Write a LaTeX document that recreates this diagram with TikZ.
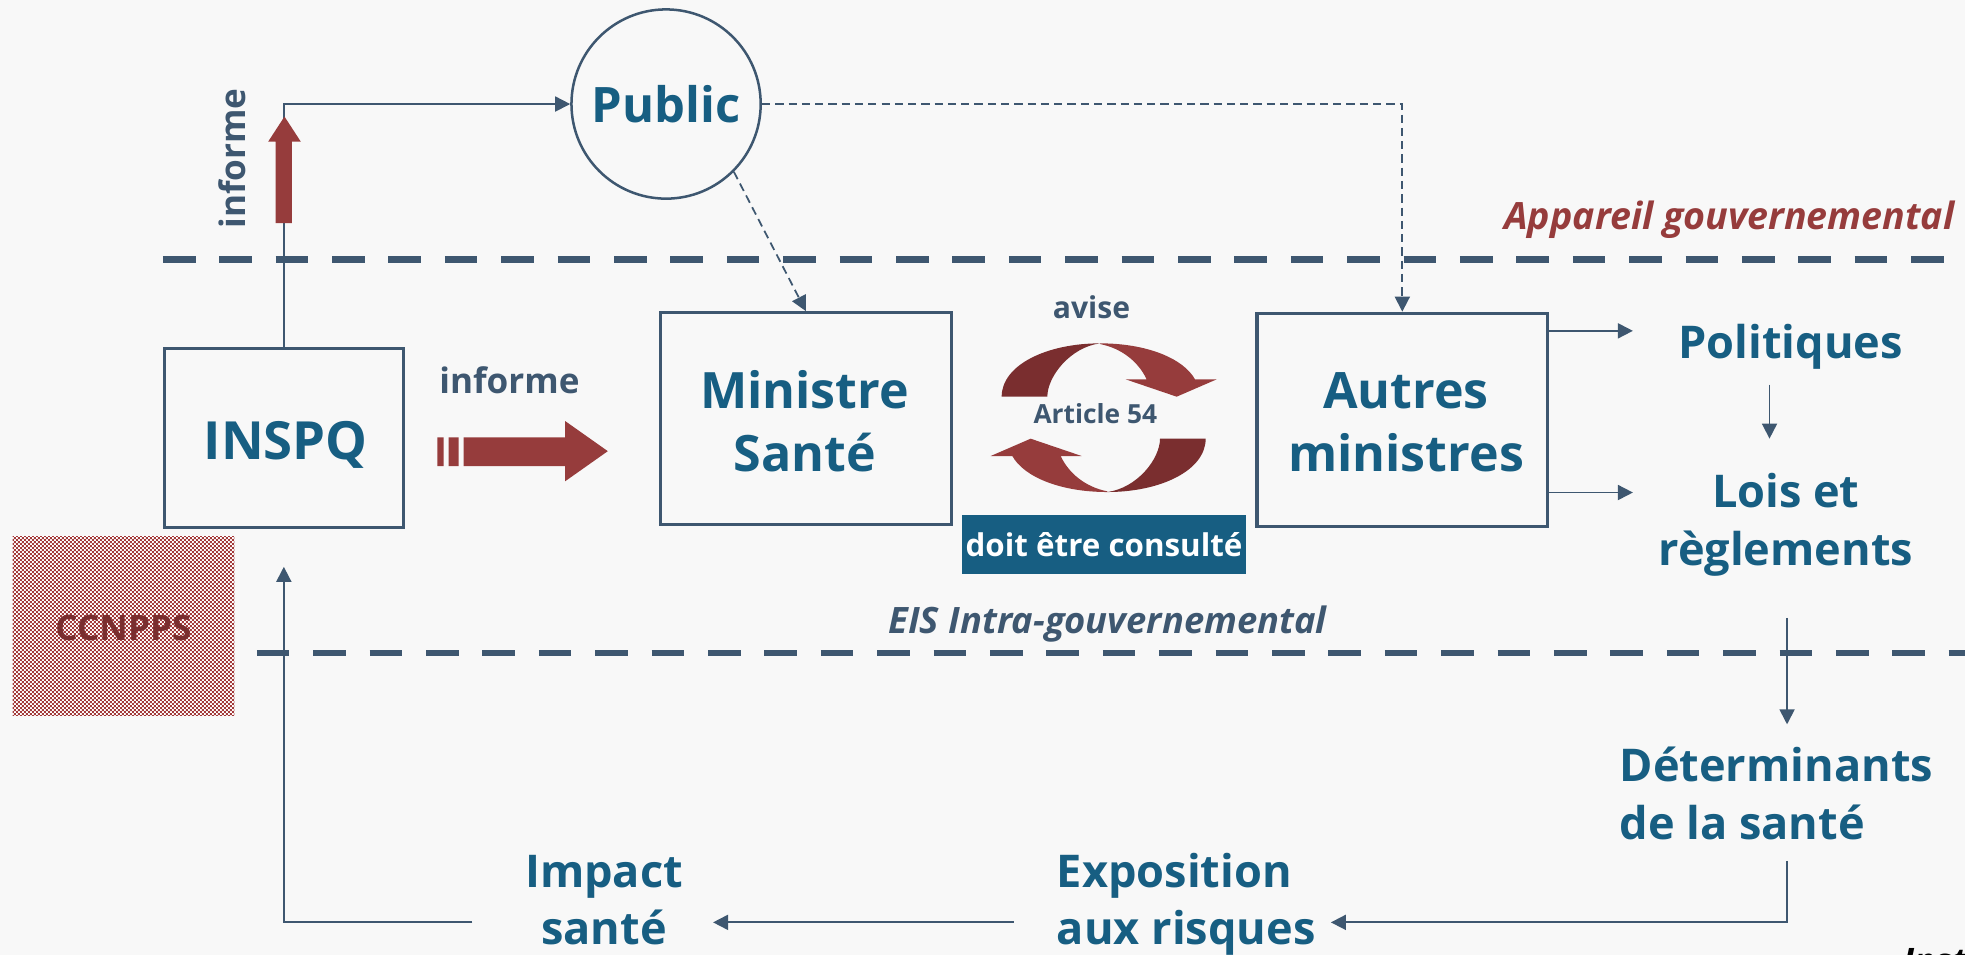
\documentclass[tikz,border=0pt]{standalone}
\usepackage{fontspec}
\setmainfont{Open Sans}
\usepackage{tikz}
\usetikzlibrary{arrows.meta, patterns}

\definecolor{linec}{HTML}{3E5770}
\definecolor{titblue}{HTML}{175E82}
\definecolor{redc}{HTML}{963C3C}
\definecolor{darkred}{HTML}{7A2E2F}
\definecolor{bgc}{HTML}{F8F8F8}
\definecolor{checkred}{HTML}{A33A3A}

\pgfdeclarepatternformonly{checks}{\pgfqpoint{0pt}{0pt}}{\pgfqpoint{1.76pt}{1.76pt}}{\pgfqpoint{1.76pt}{1.76pt}}{%
  \pgfpathrectangle{\pgfqpoint{0pt}{0pt}}{\pgfqpoint{0.88pt}{0.88pt}}%
  \pgfpathrectangle{\pgfqpoint{0.88pt}{0.88pt}}{\pgfqpoint{0.88pt}{0.88pt}}%
  \pgfusepath{fill}}

\tikzset{
  box/.style={draw=linec, line width=1.3pt, inner sep=0pt},
  lbl/.style={text=titblue, font=\bfseries\fontsize{18}{23}\selectfont, inner sep=0pt},
  boxlbl/.style={text=titblue, font=\bfseries\fontsize{20}{25.3}\selectfont, inner sep=0pt, align=center},
  note/.style={text=linec, font=\bfseries\fontsize{14}{16}\selectfont, inner sep=0pt},
  zone/.style={font=\bfseries\itshape\fontsize{15}{17}\selectfont, inner sep=0pt},
  conn/.style={draw=linec, line width=0.7pt, -{Triangle[length=6pt,width=6pt]}},
  dconn/.style={conn, dash pattern=on 3.3pt off 2pt},
  sepline/.style={draw=linec, line width=2.7pt, dash pattern=on 13pt off 9.5pt},
}

\begin{document}
\begin{tikzpicture}[x=0.5pt, y=-0.5pt]
	\useasboundingbox (0,0) rectangle (1568,762);
	\clip (0,0) rectangle (1568,762);
	\fill[bgc] (0,0) rectangle (1568,762);
	% zone separators
	\draw[sepline] (130,207) -- (1568,207);
	\draw[sepline] (205,521) -- (1568,521);
	\node[zone, text=redc, anchor=base east] (app) at (1560,183.5) {Appareil gouvernemental};
	\node[zone, text=linec, font=\bfseries\itshape\fontsize{14.5}{17}\selectfont, anchor=base west] (eis) at (708.6,505.6) {EIS Intra-gouvernemental};
	% main actors
	\node[draw=linec, line width=1pt, circle, minimum size=75.5pt, inner sep=0pt, text=titblue,
	font=\bfseries\fontsize{19.5}{22}\selectfont] (pub) at (531.5,83) {Public};
	\node[box, minimum width=95.5pt, minimum height=71.5pt] (inspq) at (226.5,349.5) {};
	\node[boxlbl, font=\bfseries\fontsize{21}{25}\selectfont, anchor=base] (inspqT) at (228,367) {INSPQ};
	\node[box, minimum width=116pt, minimum height=84.5pt] (minis) at (643,334) {};
	\node[boxlbl, anchor=base] (minisT) at (642,376.4) {Ministre\\Santé};
	\node[box, minimum width=116pt, minimum height=85pt] (autres) at (1119,335) {};
	\node[boxlbl, anchor=base] (autresT) at (1122,376.4) {Autres\\ministres};
	\node[preaction={fill=white}, pattern=checks, pattern color=checkred, minimum width=88.5pt, minimum height=71.5pt, inner sep=0pt] (ccn) at (98.5,499.5) {};
	\node[text=darkred, font=\bfseries\fontsize{14}{16}\selectfont, inner sep=0pt, anchor=base] (ccnT) at (98.5,511) {CCNPPS};
	% chain of effects
	\node[lbl, anchor=base] (pol) at (1429,286) {Politiques};
	\node[lbl, anchor=base, align=center] (lois) at (1425,451) {Lois et\\règlements};
	\node[lbl, anchor=base west, align=left] (det) at (1292,669.5) {Déterminants\\de la santé};
	\node[lbl, anchor=base west, align=left] (expo) at (843,754) {Exposition\\aux risques};
	\node[lbl, anchor=base, align=center] (imp) at (482,754) {Impact\\santé};
	\node[font=\bfseries\itshape\fontsize{14}{16}\selectfont, text=black, inner sep=0pt, anchor=base west] (inst) at (1518,777) {Institut};
	% small labels
	\node[note, rotate=90, anchor=base] (infup) at (196,126.5) {informe};
	\node[note, anchor=base] (infr) at (406.5,314) {informe};
	\node[note, font=\bfseries\fontsize{12}{14}\selectfont, anchor=base] (avise) at (871,254) {avise};
	\node[note, font=\bfseries\fontsize{10.5}{12}\selectfont, anchor=base] (art) at (874,337.8) {Article 54};
	\node[fill=titblue, text=white, font=\bfseries\fontsize{12.5}{14}\selectfont, minimum width=113pt, minimum height=23.5pt, inner sep=0pt] (consult) at (881,434.5) {doit être consulté};
	% connectors
	\coordinate (polin) at (1303,264);
	\coordinate (loisin) at (1303,393);
	\coordinate (polout) at (1412,307);
	\coordinate (loistop) at (1412,350);
	\coordinate (loisout) at (1426,493);
	\coordinate (detin) at (1426,578);
	\coordinate (detout) at (1426,687);
	\coordinate (expoin) at (1062,736);
	\coordinate (expoout) at (809,736);
	\coordinate (impin) at (569,736);
	\coordinate (impout) at (377,736);
	\draw[conn] (inspq.north) |- (pub.west);
	\draw[dconn] (pub.-45) -- (minis.north);
	\draw[dconn] (pub.east) -| (autres.north);
	\draw[conn] (autres.east |- polin) -- (polin);
	\draw[conn] (autres.east |- loisin) -- (loisin);
	\draw[conn] (polout) -- (loistop);
	\draw[conn] (loisout) -- (detin);
	\draw[conn] (detout) |- (expoin);
	\draw[conn] (expoout) -- (impin);
	\draw[conn, shorten >=15pt] (impout) -| (inspq.south);
	% red arrows
	\fill[redc] (220,178) -- (220,113) -- (214,113) -- (227,93) -- (240,113) -- (233,113) -- (233,178) -- cycle;
	\fill[redc] (349,349) rectangle (354,372) (358,349) rectangle (366,372);
	\fill[redc] (370,349) -- (451,349) -- (451,336) -- (485,360) -- (451,384) -- (451,372) -- (370,372) -- cycle;
	% article 54 cycle
	\begin{scope}[shift={(758.05,223.43)}, scale=0.266]
		\foreach \ang in {0,180} {
			\begin{scope}[rotate around={\ang:(461,413)}]
				\fill[darkred] (155,350) .. controls (155,255) and (290,190) .. (450,190)
				.. controls (360,202) and (292,290) .. (292,350) -- cycle;
				\fill[redc] (450,190) .. controls (590,190) and (700,235) .. (735,298)
				-- (800,298) -- (680,350) -- (527,298) -- (590,298)
				.. controls (565,245) and (515,205) .. (450,192) -- cycle;
			\end{scope}
		}
	\end{scope}
\end{tikzpicture}
\end{document}
